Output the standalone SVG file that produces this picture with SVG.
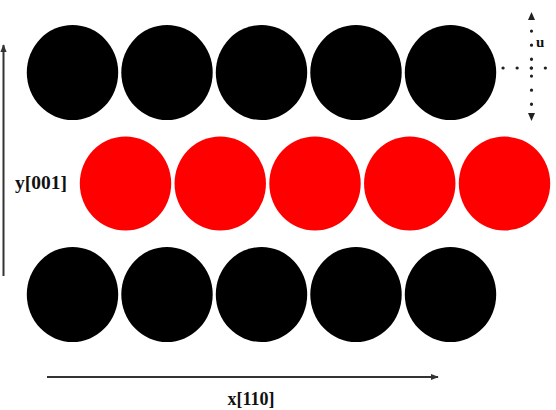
<svg xmlns="http://www.w3.org/2000/svg" width="556" height="410" viewBox="0 0 556 410">
<style>
.blk{fill:#000}
.red{fill:#ff0000}
.lbl{font-family:"Liberation Serif","Times New Roman",serif;font-weight:bold;fill:#111}
.axis{stroke:#333;stroke-width:2;fill:none}
.dot{stroke:#222;stroke-width:3.2;stroke-linecap:round;stroke-dasharray:0.1 14;fill:none}
</style>
<defs>
<marker id="ah" viewBox="0 0 10 10" refX="9" refY="5" markerWidth="4" markerHeight="4" orient="auto" markerUnits="strokeWidth">
<path d="M0,1 L10,5 L0,9 z" fill="#333"/>
</marker>
</defs>
<g id="row-top">
<ellipse class="blk" cx="72.5" cy="72.5" rx="45.7" ry="47.5"/>
<ellipse class="blk" cx="167" cy="72.5" rx="45.7" ry="47.5"/>
<ellipse class="blk" cx="261.5" cy="72.5" rx="45.7" ry="47.5"/>
<ellipse class="blk" cx="356" cy="72.5" rx="45.7" ry="47.5"/>
<ellipse class="blk" cx="450.5" cy="72.5" rx="45.7" ry="47.5"/>
</g>
<g id="row-middle">
<ellipse class="red" cx="125.5" cy="183.5" rx="45.7" ry="47"/>
<ellipse class="red" cx="220.25" cy="183.5" rx="45.7" ry="47"/>
<ellipse class="red" cx="315" cy="183.5" rx="45.7" ry="47"/>
<ellipse class="red" cx="409.75" cy="183.5" rx="45.7" ry="47"/>
<ellipse class="red" cx="504.5" cy="183.5" rx="45.7" ry="47"/>
</g>
<g id="row-bottom">
<ellipse class="blk" cx="72.5" cy="294.5" rx="45.7" ry="47.5"/>
<ellipse class="blk" cx="167" cy="294.5" rx="45.7" ry="47.5"/>
<ellipse class="blk" cx="261.5" cy="294.5" rx="45.7" ry="47.5"/>
<ellipse class="blk" cx="356" cy="294.5" rx="45.7" ry="47.5"/>
<ellipse class="blk" cx="450.5" cy="294.5" rx="45.7" ry="47.5"/>
</g>
<g id="connectors">
<line class="axis" x1="3.5" y1="276" x2="3.5" y2="45" marker-end="url(#ah)"/>
<line class="axis" x1="47" y1="377" x2="438" y2="377" marker-end="url(#ah)"/>
<line class="dot" x1="531.5" y1="31" x2="531.5" y2="60"/>
<line class="dot" x1="531.5" y1="68" x2="531.5" y2="69"/>
<line class="dot" x1="531.5" y1="76" x2="531.5" y2="105"/>
<path d="M528,20 L531.5,12 L535,20 z" fill="#222"/>
<path d="M528,113 L531.5,121 L535,113 z" fill="#222"/>
<line class="dot" x1="503" y1="68" x2="546" y2="68"/>
</g>
<g id="labels">
<text class="lbl" x="15" y="189" font-size="19.5">y[001]</text>
<text class="lbl" x="251" y="405" font-size="18" text-anchor="middle">x[110]</text>
<text class="lbl" x="536" y="47" font-size="15">u</text>
</g>
</svg>
